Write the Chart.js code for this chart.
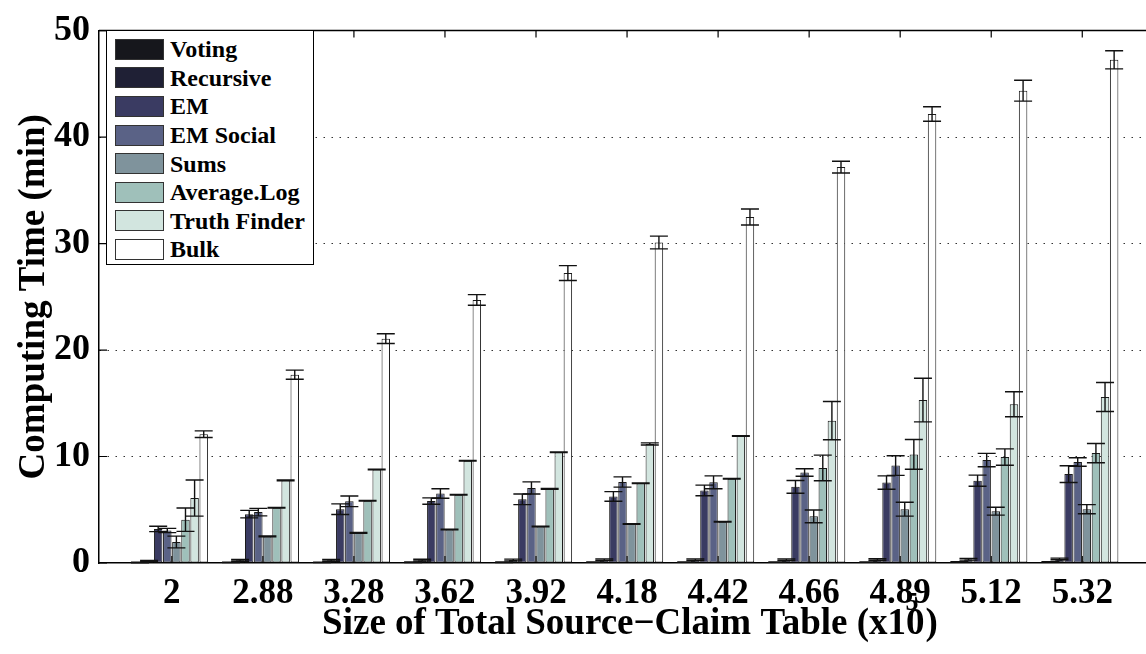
<!DOCTYPE html>
<html>
<head>
<meta charset="utf-8">
<script src="https://cdn.jsdelivr.net/npm/chart.js@4/dist/chart.umd.min.js"></script>
<style>
  html, body { margin: 0; padding: 0; background: #fff; overflow: hidden; }
  #wrap { position: relative; width: 1146px; height: 654px; }
  #c { position: absolute; left: 0; top: 0; }
  #legend {
    position: absolute; left: 106px; top: 30px; width: 208px; height: 235px;
    box-sizing: border-box; border: 1.5px solid #000; background: #fff;
    padding-top: 4px;
    font-family: "Liberation Serif", "Times New Roman", serif; font-weight: bold; font-size: 24px; color: #000;
  }
  .row { display: flex; align-items: center; height: 28.6px; }
  .sw { margin-left: 8px; width: 49px; height: 21px; box-sizing: border-box; border: 1px solid #333; }
  .lb { margin-left: 6px; white-space: nowrap; line-height: 1; }
</style>
</head>
<body>
<div id="wrap">
  <canvas id="c" width="1146" height="654"></canvas>
  <div id="legend"></div>
</div>
<script>
// Table sizes (x10^5 source-claim pairs)
const categories = ['2', '2.88', '3.28', '3.62', '3.92', '4.18', '4.42', '4.66', '4.89', '5.12', '5.32'];

const seriesNames = ['Voting', 'Recursive', 'EM', 'EM Social', 'Sums', 'Average.Log', 'Truth Finder', 'Bulk'];
const seriesColors = ['#16171c', '#1f2035', '#3a3b62', '#5a6286', '#7f939c', '#9fc0ba', '#d2e5df', '#ffffff'];

// Mean computing time (min)
const voting      = [0.05, 0.06, 0.06, 0.07, 0.07, 0.08, 0.08, 0.09, 0.09, 0.10, 0.10];
const recursive   = [0.20, 0.25, 0.25, 0.27, 0.28, 0.30, 0.30, 0.30, 0.32, 0.35, 0.38];
const em          = [3.20, 4.59, 5.05, 5.82, 5.98, 6.25, 6.81, 7.15, 7.55, 7.73, 8.35];
const emSocial    = [3.05, 4.78, 5.79, 6.53, 7.05, 7.61, 7.58, 8.50, 9.15, 9.67, 9.49];
const sums        = [1.97, 2.50, 2.83, 3.14, 3.42, 3.67, 3.88, 4.38, 5.05, 4.87, 5.05];
const avgLog      = [4.07, 5.18, 5.85, 6.41, 6.96, 7.49, 7.92, 8.93, 10.20, 9.95, 10.32];
const truthFinder = [6.10, 7.76, 8.78, 9.61, 10.41, 11.18, 11.92, 13.37, 15.30, 14.91, 15.59];
const bulk        = [12.10, 17.68, 21.07, 24.70, 27.23, 30.10, 32.50, 37.18, 42.17, 44.36, 47.26];

// Standard deviation of computing time (min)
const votingErr      = [0.02, 0.02, 0.02, 0.02, 0.02, 0.02, 0.02, 0.02, 0.02, 0.02, 0.02];
const recursiveErr   = [0.05, 0.08, 0.08, 0.08, 0.08, 0.08, 0.08, 0.08, 0.08, 0.08, 0.08];
const emErr          = [0.25, 0.35, 0.50, 0.30, 0.50, 0.45, 0.50, 0.60, 0.63, 0.52, 0.79];
const emSocialErr    = [0.20, 0.35, 0.50, 0.45, 0.57, 0.48, 0.60, 0.35, 0.92, 0.63, 0.40];
const sumsErr        = [0.55, 0.03, 0.03, 0.03, 0.03, 0.03, 0.03, 0.60, 0.65, 0.37, 0.43];
const avgLogErr      = [1.10, 0.03, 0.03, 0.03, 0.03, 0.03, 0.03, 1.20, 1.40, 0.77, 0.90];
const truthFinderErr = [1.70, 0.03, 0.03, 0.03, 0.03, 0.10, 0.03, 1.80, 2.05, 1.17, 1.36];
const bulkErr        = [0.31, 0.43, 0.46, 0.50, 0.70, 0.60, 0.75, 0.55, 0.68, 0.98, 0.85];

const yTicks = [0, 10, 20, 30, 40, 50];

const seriesValues = [voting, recursive, em, emSocial, sums, avgLog, truthFinder, bulk];
const seriesErrors = [votingErr, recursiveErr, emErr, emSocialErr, sumsErr, avgLogErr, truthFinderErr, bulkErr];

const SERIF = '"Liberation Serif", "Times New Roman", serif';

const datasets = seriesNames.map((name, k) => ({
  label: name,
  data: seriesValues[k].map((v, i) => ({ x: i + 1, y: v })),
  errors: seriesErrors[k],
  backgroundColor: seriesColors[k],
  borderColor: '#1a1a1a',
  borderWidth: 1,
  borderSkipped: false,
  categoryPercentage: 0.8,
  barPercentage: 0.93
}));

// HTML legend
const legendEl = document.getElementById('legend');
seriesNames.forEach((name, k) => {
  const row = document.createElement('div');
  row.className = 'row';
  const sw = document.createElement('div');
  sw.className = 'sw';
  sw.style.background = seriesColors[k];
  const lb = document.createElement('span');
  lb.className = 'lb';
  lb.textContent = name;
  row.appendChild(sw); row.appendChild(lb);
  legendEl.appendChild(row);
});

// Error bars with caps
const errorBars = {
  id: 'errorBars',
  afterDatasetsDraw(chart) {
    const { ctx, scales: { y } } = chart;
    ctx.save();
    ctx.strokeStyle = '#111';
    ctx.lineWidth = 1.4;
    chart.data.datasets.forEach((ds, k) => {
      const meta = chart.getDatasetMeta(k);
      meta.data.forEach((bar, i) => {
        const v = ds.data[i].y, e = ds.errors[i];
        const yHi = y.getPixelForValue(v + e);
        const yLo = y.getPixelForValue(Math.max(0, v - e));
        const hw = 9;
        ctx.beginPath();
        ctx.moveTo(bar.x, yHi); ctx.lineTo(bar.x, yLo);
        ctx.moveTo(bar.x - hw, yHi); ctx.lineTo(bar.x + hw, yHi);
        ctx.moveTo(bar.x - hw, yLo); ctx.lineTo(bar.x + hw, yLo);
        ctx.stroke();
      });
    });
    ctx.restore();
  }
};

// Box outline and inward tick marks
const frame = {
  id: 'frame',
  beforeDatasetsDraw(chart) {
    const { ctx, chartArea: a, scales: { x, y } } = chart;
    ctx.save();
    ctx.strokeStyle = '#000';
    ctx.lineWidth = 1.2;
    ctx.beginPath();
    y.ticks.forEach(t => {
      const py = y.getPixelForValue(t.value);
      ctx.moveTo(a.left, py); ctx.lineTo(a.left + 8, py);
    });
    x.ticks.forEach(t => {
      const px = x.getPixelForValue(t.value);
      ctx.moveTo(px, a.bottom); ctx.lineTo(px, a.bottom - 7);
    });
    ctx.stroke();
    ctx.restore();
  },
  afterDraw(chart) {
    const { ctx, chartArea: a, scales: { x } } = chart;
    ctx.save();
    ctx.strokeStyle = '#000';
    ctx.lineWidth = 1.5;
    ctx.beginPath();
    ctx.moveTo(a.left, a.top); ctx.lineTo(a.right + 2, a.top);
    ctx.stroke();
    ctx.lineWidth = 1.2;
    ctx.beginPath();
    x.ticks.forEach(t => {
      const px = x.getPixelForValue(t.value);
      ctx.moveTo(px, a.top); ctx.lineTo(px, a.top + 7);
    });
    ctx.stroke();
    ctx.restore();
  }
};

// X axis title with the x10^5 exponent
const xTitle = {
  id: 'xTitle',
  afterDraw(chart) {
    const { ctx } = chart;
    const a = chart.chartArea;
    const main = 'Size of Total Source\u2212Claim Table (x10';
    const close = ')';
    ctx.save();
    ctx.fillStyle = '#000';
    ctx.textBaseline = 'alphabetic';
    ctx.textAlign = 'left';
    ctx.font = 'bold 37px ' + SERIF;
    const wMain = ctx.measureText(main).width;
    const wClose = ctx.measureText(close).width;
    const cx = (a.left + a.right) / 2 + 7;
    const x0 = cx - (wMain + wClose) / 2;
    const base = 634;
    ctx.fillText(main, x0, base);
    ctx.fillText(close, x0 + wMain + 1, base);
    ctx.font = 'bold 26px ' + SERIF;
    ctx.fillText('5', x0 + wMain - 19, base - 24);
    ctx.restore();
  }
};

new Chart(document.getElementById('c'), {
  type: 'bar',
  data: { datasets },
  plugins: [errorBars, frame, xTitle],
  options: {
    responsive: false,
    animation: false,
    devicePixelRatio: 1,
    layout: { padding: { top: 22, right: 0, left: 0, bottom: 0 } },
    plugins: { legend: { display: false }, tooltip: { enabled: false } },
    scales: {
      x: {
        type: 'linear',
        offset: false,
        min: 0.2,
        max: 11.7,
        afterBuildTicks: s => { s.ticks = categories.map((_, i) => ({ value: i + 1 })); },
        afterFit: s => { s.height = 91; },
        ticks: {
          autoSkip: false, maxRotation: 0, padding: 2, color: '#000',
          font: { family: SERIF, weight: 'bold', size: 35 },
          callback: (v, i) => categories[i]
        },
        grid: { display: false },
        border: { display: true, color: '#000', width: 1.5 }
      },
      y: {
        min: 0,
        max: 50,
        afterBuildTicks: s => { s.ticks = yTicks.map(v => ({ value: v })); },
        afterFit: s => { s.width = 99; },
        ticks: {
          padding: 9, color: '#000',
          font: { family: SERIF, weight: 'bold', size: 36 }
        },
        grid: {
          drawTicks: false,
          lineWidth: 1,
          color: c => (c.tick && (c.tick.value === 0 || c.tick.value === 50)) ? 'rgba(0,0,0,0)' : '#333'
        },
        border: { display: true, color: '#000', width: 1.5, dash: [1.5, 6.5] },
        title: {
          display: true,
          text: 'Computing Time (min)',
          color: '#000',
          font: { family: SERIF, weight: 'bold', size: 37, lineHeight: 1.2 },
          padding: { top: 12, bottom: 0 }
        }
      }
    }
  }
});
</script>
</body>
</html>
